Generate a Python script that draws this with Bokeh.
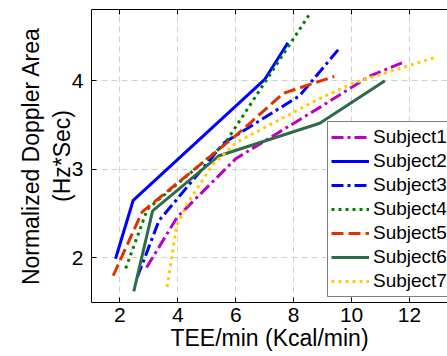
from bokeh.plotting import figure
from bokeh.models import Range1d, FixedTicker, LinearAxis
from bokeh.embed import file_html
from bokeh.resources import INLINE

# ---- data ----
names = ["Subject1", "Subject2", "Subject3", "Subject4", "Subject5", "Subject6", "Subject7"]
s1_x = [2.92, 3.98, 6.0, 8.9, 10.6, 11.86]
s1_y = [1.89, 2.46, 3.12, 3.70, 4.05, 4.22]
s2_x = [1.85, 2.46, 7.01, 7.80]
s2_y = [1.99, 2.65, 4.02, 4.43]
s3_x = [2.60, 3.35, 5.6, 8.2, 9.56]
s3_y = [1.78, 2.42, 3.30, 3.83, 4.36]
s4_x = [2.20, 2.95, 5.6, 8.52]
s4_y = [1.88, 2.55, 3.28, 4.74]
s5_x = [1.77, 2.77, 6.0, 7.65, 9.4]
s5_y = [1.80, 2.52, 3.38, 3.86, 4.05]
s6_x = [2.48, 3.13, 5.4, 8.9, 11.15]
s6_y = [1.62, 2.53, 3.15, 3.52, 4.00]
s7_x = [3.63, 3.95, 4.3, 5.2, 6.0, 8.9, 10.1, 12.84]
s7_y = [1.67, 2.35, 2.60, 3.05, 3.30, 3.80, 3.98, 4.26]
x_ticks = [2, 4, 6, 8, 10, 12]
y_ticks = [2, 3, 4]

series_x = [s1_x, s2_x, s3_x, s4_x, s5_x, s6_x, s7_x]
series_y = [s1_y, s2_y, s3_y, s4_y, s5_y, s6_y, s7_y]
colors = ["#BF00BF", "#0000FF", "#0000FF", "#008000", "#DD3300", "#2F6B4B", "#FFCC00"]
dashes = ["12 4 3 4", "solid", "12 4 3 4", "3 4", "12 5", "solid", "3 4"]

FONT = "Liberation Sans"

p = figure(width=447, height=356, output_backend="svg", toolbar_location=None,
           x_range=Range1d(1.02, 13.31), y_range=Range1d(1.495, 4.806),
           min_border_left=91, min_border_right=0, min_border_top=9, min_border_bottom=54)
p.outline_line_color = None
p.background_fill_color = "white"
p.border_fill_color = "white"

for xs, ys, c, d, n in zip(series_x, series_y, colors, dashes, names):
    p.line(xs, ys, line_color=c, line_width=3, line_dash=d, legend_label=n)

for ax in (p.xaxis[0], p.yaxis[0]):
    ax.axis_line_color = "black"
    ax.axis_line_width = 1
    ax.major_tick_in = 5
    ax.major_tick_out = 0
    ax.minor_tick_line_color = None
    ax.major_tick_line_color = "black"
    ax.major_label_text_font = FONT
    ax.major_label_text_font_size = "21px"
    ax.major_label_text_color = "black"
    ax.axis_label_text_font = FONT
    ax.axis_label_text_font_style = "normal"
    ax.axis_label_text_color = "black"

p.xaxis[0].ticker = FixedTicker(ticks=x_ticks)
p.yaxis[0].ticker = FixedTicker(ticks=y_ticks)
p.xaxis[0].major_label_standoff = 5
p.xaxis[0].axis_label = "TEE/min (Kcal/min)"
p.xaxis[0].axis_label_text_font_size = "23px"
p.xaxis[0].axis_label_standoff = 0
p.yaxis[0].major_label_standoff = 8
p.yaxis[0].axis_label = "Normalized Doppler Area\n(Hz*Sec)"
p.yaxis[0].axis_label_text_font_size = "23px"
p.yaxis[0].axis_label_standoff = -6
p.yaxis[0].axis_label_text_line_height = 1.2

top = LinearAxis(ticker=FixedTicker(ticks=x_ticks), major_label_text_font_size="1px",
                 major_label_text_color=None, major_tick_in=5, major_tick_out=0,
                 major_label_standoff=0, minor_tick_line_color=None, axis_line_color="black")
p.add_layout(top, "above")

p.xgrid.ticker = FixedTicker(ticks=x_ticks)
p.ygrid.ticker = FixedTicker(ticks=y_ticks)
for g in (p.xgrid[0], p.ygrid[0]):
    g.grid_line_color = "#cfcfcf"
    g.grid_line_dash = "6 4"
    g.grid_line_width = 1

lg = p.legend[0]
lg.location = (236, 5)
lg.label_text_font = FONT
lg.label_text_font_size = "19px"
lg.label_text_color = "black"
lg.glyph_width = 38
lg.glyph_height = 24
lg.label_height = 24
lg.label_standoff = 4
lg.spacing = 0
lg.padding = 3
lg.margin = 0
lg.border_line_color = "black"
lg.border_line_width = 1
lg.background_fill_color = "white"
lg.background_fill_alpha = 1

open("out.html", "w").write(file_html(p, INLINE))
